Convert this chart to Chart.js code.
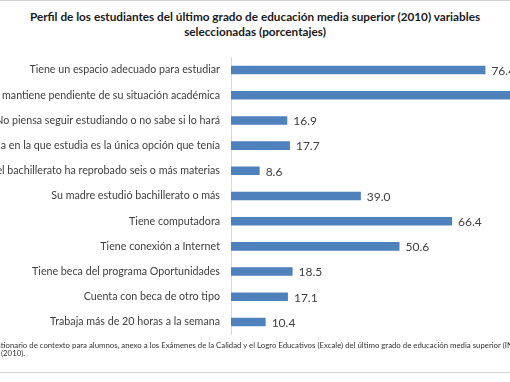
<!DOCTYPE html>
<html>
<head>
<meta charset="utf-8">
<script src="https://cdn.jsdelivr.net/npm/chart.js@4"></script>
<style>
  html, body { margin: 0; padding: 0; background: #fff; }
  #page { position: relative; width: 510px; height: 382px; overflow: hidden; background: #fff; }
  #title { position: absolute; left: 0; top: 9px; width: 510px; text-align: center;
    font: bold 11.75px Lato, sans-serif; color: #1a1a1a; line-height: 15px; }
  #wrap { position: absolute; left: -100px; top: 40px; width: 700px; height: 312px; }
  .note { position: absolute; font: 7.8px Lato, sans-serif; color: #333; white-space: nowrap; line-height: 8px; }
  .rule { position: absolute; left: 0; width: 510px; height: 1px; background: #d4d4d4; }
</style>
</head>
<body>
<div id="page">
  <div class="rule" style="top:0"></div>
  <div id="title">Perfil de los estudiantes del último grado de educación media superior (2010) variables<br>seleccionadas (porcentajes)</div>
  <div id="wrap"><canvas id="chart"></canvas></div>
  <div class="note" style="left:-44px; top:341px">Fuente: Cuestionario de contexto para alumnos, anexo a los Exámenes de la Calidad y el Logro Educativos (Excale) del último grado de educación media superior (INEE)</div>
  <div class="note" style="left:1px; top:349px">(2010).</div>
  <div class="rule" style="top:372px"></div>
</div>
<script>
const categories = [
  'Tiene un espacio adecuado para estudiar',
  'Se mantiene pendiente de su situación académica',
  'No piensa seguir estudiando o no sabe si lo hará',
  'La escuela en la que estudia es la única opción que tenía',
  'En el bachillerato ha reprobado seis o más materias',
  'Su madre estudió bachillerato o más',
  'Tiene computadora',
  'Tiene conexión a Internet',
  'Tiene beca del programa Oportunidades',
  'Cuenta con beca de otro tipo',
  'Trabaja más de 20 horas a la semana'
];
const porcentajes = [76.4, 88.7, 16.9, 17.7, 8.6, 39.0, 66.4, 50.6, 18.5, 17.1, 10.4];

// etiquetas de valor al final de cada barra
const valueLabels = {
  id: 'valueLabels',
  afterDatasetsDraw(chart) {
    const ctx = chart.ctx;
    const meta = chart.getDatasetMeta(0);
    ctx.save();
    ctx.font = '12px Lato, sans-serif';
    ctx.fillStyle = '#404040';
    ctx.textAlign = 'left';
    ctx.textBaseline = 'middle';
    meta.data.forEach((bar, i) => {
      ctx.fillText(porcentajes[i].toFixed(1), bar.x + 6, bar.y + 1);
    });
    ctx.restore();
  }
};

new Chart(document.getElementById('chart'), {
  type: 'bar',
  data: {
    labels: categories,
    datasets: [{
      data: porcentajes,
      backgroundColor: '#4F81BD',
      barPercentage: 0.34,
      categoryPercentage: 1
    }]
  },
  options: {
    indexAxis: 'y',
    responsive: true,
    maintainAspectRatio: false,
    animation: false,
    layout: { padding: { left: 0, right: 36, top: 3, bottom: 3 } },
    plugins: {
      legend: { display: false },
      tooltip: { enabled: false }
    },
    scales: {
      x: { display: false, min: 0, max: 100 },
      y: {
        afterFit(scale) { scale.width = 331; },
        grid: { display: true, drawOnChartArea: false, drawTicks: false },
        border: { display: true, color: '#d9d9d9', width: 1 },
        ticks: { padding: 11, color: '#404040', font: { family: 'Lato', size: 10.7 } }
      }
    }
  },
  plugins: [valueLabels]
});
</script>
</body>
</html>
